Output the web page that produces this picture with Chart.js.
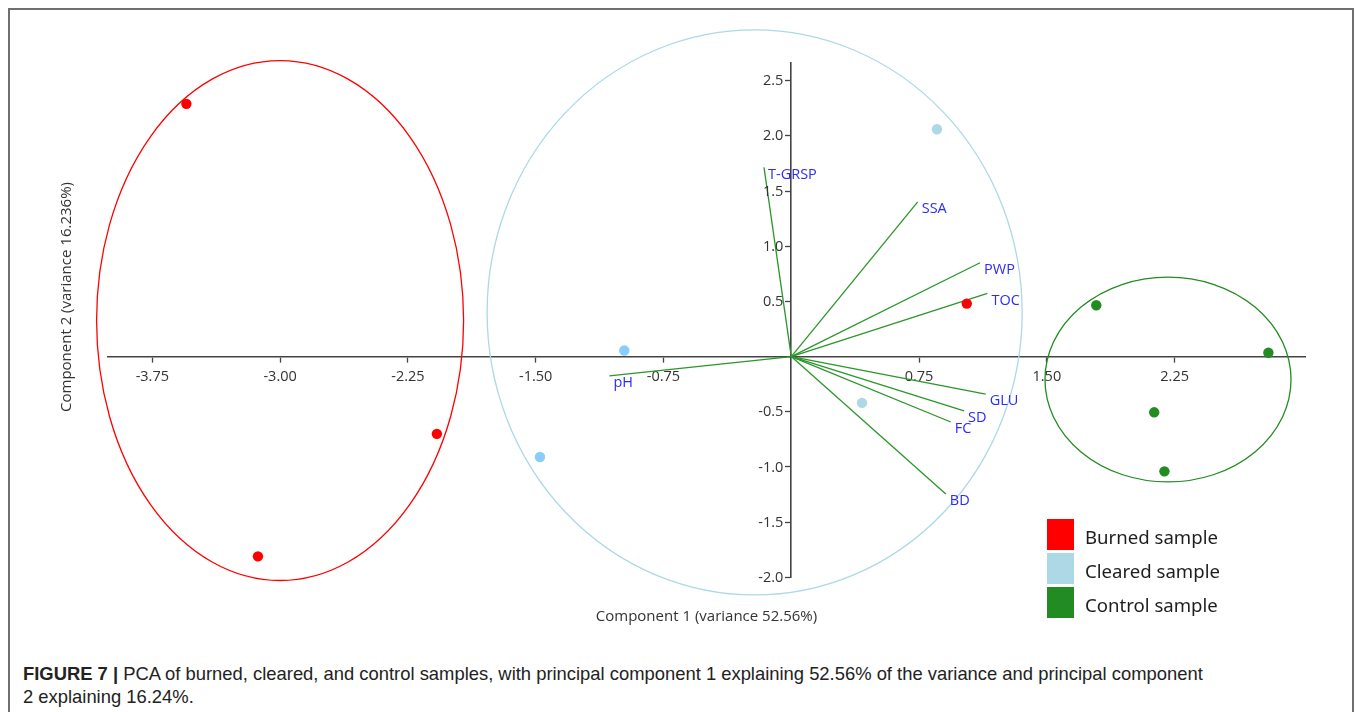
<!DOCTYPE html>
<html>
<head>
<meta charset="utf-8">
<script src="https://cdn.jsdelivr.net/npm/chart.js@4.4.1/dist/chart.umd.min.js"></script>
<style>
  html, body { margin: 0; padding: 0; background: #fff; width: 1355px; height: 712px; overflow: hidden; }
  #frame { position: absolute; left: 8px; top: 8px; width: 1346px; height: 720px; border: 2px solid #6f6f6f; border-bottom: none; box-sizing: border-box; }
  #wrap { position: absolute; left: 0; top: 0; width: 1355px; height: 640px; }
  #legend { position: absolute; left: 1047px; top: 517px; font-family: 'Noto Sans', 'Open Sans', sans-serif; font-size: 18.6px; color: #1e1e1e; }
  #legend .row { display: flex; align-items: center; height: 34px; }
  #legend .row span { position: relative; top: 2px; }
  #legend .sw { width: 27px; height: 31px; margin-right: 11px; }
  #caption { position: absolute; left: 23px; top: 662px; font-family: 'Liberation Sans', Arial, sans-serif; font-size: 18.4px; line-height: 23px; color: #222; white-space: nowrap; }
  #caption b { font-weight: bold; }
</style>
</head>
<body>
<div id="frame"></div>
<div id="wrap"><canvas id="pca"></canvas></div>
<div id="legend"></div>
<div id="caption"><b>FIGURE 7 |</b> PCA of burned, cleared, and control samples, with principal component 1 explaining 52.56% of the variance and principal component<br>2 explaining 16.24%.</div>
<script>
// Sample scores on the first two principal components
const burnedX = [-3.55, -3.13, -2.08, 1.03];
const burnedY = [2.29, -1.81, -0.70, 0.48];
const clearedX = [0.855, -0.98, -1.475, 0.415];
const clearedY = [2.06, 0.055, -0.91, -0.42];
const controlX = [1.79, 2.80, 2.13, 2.19];
const controlY = [0.465, 0.035, -0.505, -1.04];

// Variable loadings (biplot vectors)
const loadingNames = ['T-GRSP', 'SSA', 'PWP', 'TOC', 'GLU', 'SD', 'FC', 'BD', 'pH'];
const loadingX = [-0.16, 0.742, 1.108, 1.151, 1.141, 1.014, 0.936, 0.907, -1.067];
const loadingY = [1.714, 1.402, 0.85, 0.572, -0.34, -0.491, -0.593, -1.245, -0.174];

// Group ellipses: burned, cleared, control
const groupNames = ['Burned sample', 'Cleared sample', 'Control sample'];
const ellipseCX = [-3.0, -0.215, 2.211];
const ellipseCY = [0.326, 0.40, -0.208];
const ellipseRX = [1.077, 1.57, 0.722];
const ellipseRY = [2.355, 2.56, 0.928];

// Axis ticks
const xTicks = [-3.75, -3.00, -2.25, -1.50, -0.75, 0.75, 1.50, 2.25];
const yTicks = [-2.0, -1.5, -1.0, -0.5, 0.5, 1.0, 1.5, 2.0, 2.5];

const xTitle = 'Component 1 (variance 52.56%)';
const yTitle = 'Component 2 (variance 16.236%)';

const groupColors = ['#ff0000', '#add8e6', '#228b22'];
const clearedShades = ['#add8e6', '#87cefa', '#87cefa', '#add8e6'];
const loadingColor = '#2a962a';
const loadingLabelColor = '#2b2bff';
const axisColor = '#444';
const textColor = '#333';
const uiFont = "'Open Sans', 'Noto Sans', sans-serif";
const tickFontSize = 14.5;

const pts = (xs, ys) => xs.map((v, i) => ({ x: v, y: ys[i] }));

const datasets = [
  { label: groupNames[0], data: pts(burnedX, burnedY), backgroundColor: groupColors[0], pointBackgroundColor: groupColors[0], order: 0 },
  { label: groupNames[1], data: pts(clearedX, clearedY), backgroundColor: groupColors[1], pointBackgroundColor: clearedShades, order: 0 },
  { label: groupNames[2], data: pts(controlX, controlY), backgroundColor: groupColors[2], pointBackgroundColor: groupColors[2], order: 0 }
].map(d => Object.assign(d, { type: 'scatter', pointRadius: 5.2, pointBorderWidth: 0, pointHoverRadius: 5.2 }));

loadingNames.forEach((name, i) => {
  datasets.push({
    type: 'line',
    label: name,
    data: [{ x: 0, y: 0 }, { x: loadingX[i], y: loadingY[i] }],
    borderColor: loadingColor,
    borderWidth: 1.3,
    pointRadius: 0,
    fill: false,
    order: 1,
    isLoading: true
  });
});

const pcaOverlay = {
  id: 'pcaOverlay',
  beforeDatasetsDraw(chart) {
    const { ctx, scales: { x, y } } = chart;
    ctx.save();
    ellipseCX.forEach((cx, i) => {
      const px = x.getPixelForValue(cx);
      const py = y.getPixelForValue(ellipseCY[i]);
      const rx = Math.abs(x.getPixelForValue(cx + ellipseRX[i]) - px);
      const ry = Math.abs(y.getPixelForValue(ellipseCY[i] + ellipseRY[i]) - py);
      ctx.beginPath();
      ctx.ellipse(px, py, rx, ry, 0, 0, Math.PI * 2);
      ctx.strokeStyle = groupColors[i];
      ctx.lineWidth = 1.3;
      ctx.stroke();
    });
    ctx.restore();
  },
  afterDatasetsDraw(chart) {
    const { ctx, chartArea, scales: { x, y } } = chart;
    ctx.save();
    // y tick labels, to the left of the tick marks on the central axis
    const x0 = x.getPixelForValue(0);
    ctx.font = tickFontSize + 'px ' + uiFont;
    ctx.fillStyle = textColor;
    ctx.textAlign = 'right';
    ctx.textBaseline = 'middle';
    y.ticks.forEach(t => {
      ctx.fillText(Number(t.value).toFixed(1), x0 - 8, y.getPixelForValue(t.value) + 0.5);
    });
    // loading labels at the tips of the vectors
    ctx.font = '14.5px ' + uiFont;
    ctx.fillStyle = loadingLabelColor;
    ctx.textAlign = 'left';
    loadingNames.forEach((name, i) => {
      ctx.fillText(name, x.getPixelForValue(loadingX[i]) + 4, y.getPixelForValue(loadingY[i]) + 7);
    });
    // axis titles
    ctx.font = '15px ' + uiFont;
    ctx.fillStyle = textColor;
    ctx.textAlign = 'center';
    ctx.fillText(xTitle, (chartArea.left + chartArea.right) / 2, chartArea.bottom + 39);
    ctx.translate(67, chartArea.top + 234);
    ctx.rotate(-Math.PI / 2);
    ctx.fillText(yTitle, 0, 0);
    ctx.restore();
  }
};

const chart = new Chart(document.getElementById('pca'), {
  type: 'scatter',
  data: { datasets },
  options: {
    responsive: true,
    maintainAspectRatio: false,
    animation: false,
    events: [],
    layout: { padding: { left: 108, right: 50, top: 63, bottom: 62.7 } },
    plugins: { legend: { display: false }, tooltip: { enabled: false } },
    scales: {
      x: {
        type: 'linear',
        min: -4.01,
        max: 3.015,
        position: { y: 0 },
        afterBuildTicks: s => { s.ticks = xTicks.map(v => ({ value: v })); },
        ticks: { callback: v => Number(v).toFixed(2), font: { family: uiFont, size: tickFontSize }, color: textColor, padding: 7, maxRotation: 0, autoSkip: false },
        grid: { drawOnChartArea: false, drawTicks: true, tickLength: 5, tickColor: axisColor, tickWidth: 1.3 },
        border: { color: axisColor, width: 1.6 }
      },
      y: {
        type: 'linear',
        min: -2.0,
        max: 2.66,
        position: { x: 0 },
        afterBuildTicks: s => { s.ticks = yTicks.map(v => ({ value: v })); },
        ticks: { display: false },
        grid: { drawOnChartArea: false, drawTicks: true, tickLength: 5, tickColor: axisColor, tickWidth: 1.3 },
        border: { color: axisColor, width: 1.6 }
      }
    }
  },
  plugins: [pcaOverlay]
});

// legend built from the sample datasets
const legend = document.getElementById('legend');
chart.data.datasets.filter(d => !d.isLoading).forEach(d => {
  const row = document.createElement('div');
  row.className = 'row';
  const sw = document.createElement('div');
  sw.className = 'sw';
  sw.style.background = d.backgroundColor;
  const t = document.createElement('span');
  t.textContent = d.label;
  row.appendChild(sw);
  row.appendChild(t);
  legend.appendChild(row);
});
</script>
</body>
</html>
